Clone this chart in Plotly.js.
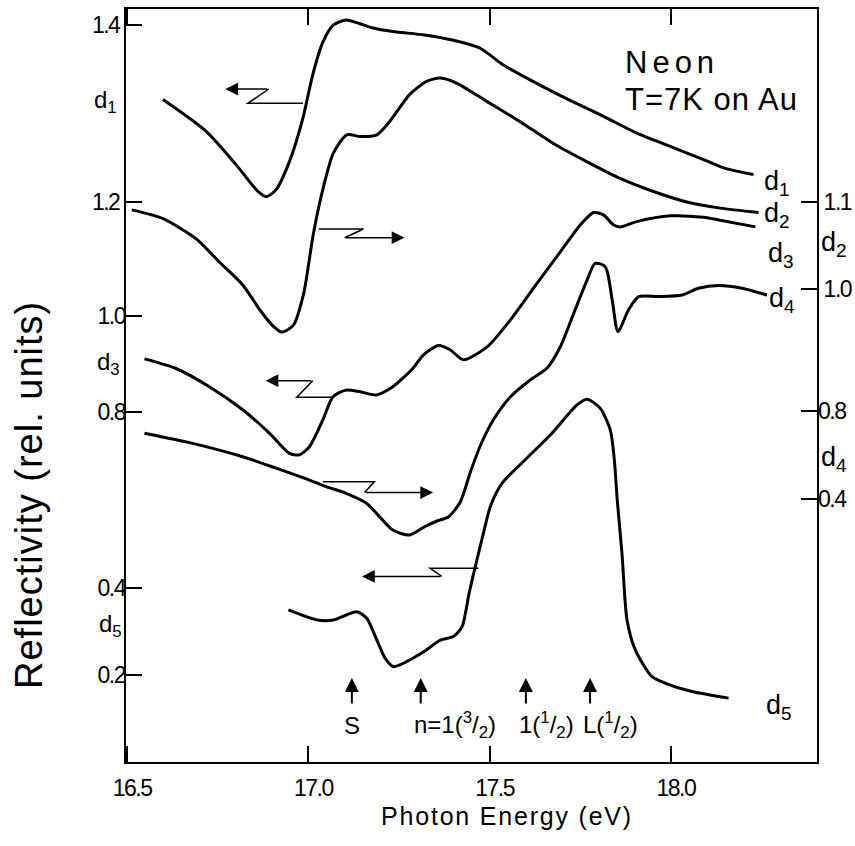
<!DOCTYPE html>
<html>
<head>
<meta charset="utf-8">
<script src="https://cdn.plot.ly/plotly-3.0.1.min.js"></script>
<style>
  html,body{margin:0;padding:0;background:#fff;}
  #chart{width:855px;height:846px;}
  text[data-unformatted="Neon"]{letter-spacing:5px;}
  text[data-unformatted="T=7K on Au"]{letter-spacing:1px;}
  text[data-unformatted="Reflectivity (rel. units)"]{letter-spacing:1px;}
  text[data-unformatted="Photon Energy (eV)"]{letter-spacing:1.8px;}
  g[class$="tick"] > text{letter-spacing:-1.5px;}
</style>
</head>
<body>
<div id="chart"></div>
<script>
// ---- Data (photon energy in eV, reflectivity in relative units, each curve on its own scale) ----
const d1E = [16.599,16.718,16.801,16.861,16.884,16.911,16.948,16.985,17.012,17.040,17.068,17.104,17.141,17.178,17.233,17.320,17.400,17.474,17.538,17.631,17.722,17.814,17.906,17.998,18.090,18.150,18.228];
const d1R = [1.316,1.280,1.242,1.212,1.206,1.214,1.246,1.295,1.344,1.381,1.400,1.406,1.402,1.397,1.393,1.389,1.383,1.374,1.355,1.334,1.315,1.297,1.278,1.263,1.248,1.238,1.231];

const d2E = [16.513,16.599,16.690,16.755,16.819,16.867,16.900,16.927,16.959,16.987,17.014,17.042,17.069,17.106,17.143,17.189,17.224,17.279,17.325,17.364,17.410,17.493,17.584,17.676,17.769,17.860,17.952,18.044,18.136,18.242];
const d2R = [1.091,1.081,1.058,1.031,1.005,0.976,0.959,0.951,0.959,0.995,1.064,1.118,1.156,1.177,1.175,1.177,1.192,1.223,1.238,1.242,1.236,1.215,1.192,1.167,1.146,1.127,1.112,1.100,1.093,1.088];

const d3E = [16.548,16.635,16.727,16.819,16.893,16.948,16.975,17.003,17.040,17.068,17.104,17.141,17.187,17.233,17.288,17.317,17.359,17.391,17.428,17.493,17.557,17.631,17.695,17.750,17.787,17.814,17.842,17.860,17.906,17.998,18.090,18.136,18.233];
const d3R = [0.910,0.890,0.852,0.804,0.755,0.713,0.710,0.727,0.783,0.831,0.845,0.842,0.835,0.852,0.890,0.918,0.938,0.929,0.908,0.935,0.991,1.068,1.133,1.189,1.215,1.210,1.189,1.185,1.196,1.208,1.205,1.199,1.185];

const d4E = [16.548,16.681,16.819,16.911,17.003,17.049,17.104,17.160,17.196,17.233,17.279,17.322,17.355,17.386,17.419,17.447,17.474,17.510,17.557,17.612,17.658,17.695,17.732,17.769,17.791,17.819,17.838,17.854,17.883,17.911,17.966,18.031,18.076,18.132,18.196,18.265];
const d4R = [0.699,0.653,0.592,0.540,0.486,0.456,0.426,0.381,0.320,0.259,0.236,0.275,0.300,0.318,0.386,0.523,0.641,0.759,0.864,0.941,0.994,1.092,1.244,1.396,1.471,1.456,1.305,1.161,1.259,1.320,1.320,1.327,1.358,1.370,1.358,1.327];

const d5E = [16.945,17.024,17.069,17.106,17.134,17.161,17.189,17.212,17.235,17.272,17.318,17.364,17.400,17.424,17.444,17.465,17.483,17.502,17.534,17.598,17.672,17.741,17.769,17.805,17.833,17.844,17.852,17.865,17.879,17.902,17.948,17.985,18.058,18.159];
const d5R = [0.349,0.326,0.326,0.338,0.345,0.330,0.280,0.238,0.219,0.231,0.253,0.280,0.288,0.311,0.390,0.464,0.525,0.586,0.639,0.693,0.754,0.819,0.832,0.811,0.761,0.693,0.601,0.479,0.326,0.257,0.196,0.181,0.162,0.147];

// tick values / labels
const xTickVals = [16.5, 17.0, 17.5, 18.0];
const xTickText = ['16.5', '17.0', '17.5', '18.0'];
const d1Ticks = [1.2, 1.4];
const d3Ticks = [0.8, 1.0];
const d5Ticks = [0.2, 0.4];
const d2Ticks = [1.0, 1.1];
const d4Ticks = [0.4, 0.8];

// marked transitions
const featureLabels = ['S', 'n=1(<sup>3</sup>/<sub>2</sub>)', '1(<sup>1</sup>/<sub>2</sub>)', 'L(<sup>1</sup>/<sub>2</sub>)'];
const featureE = [17.12, 17.31, 17.60, 17.777];

// ---- Figure ----
const tickFont = {family: 'Liberation Sans, Arial, sans-serif', size: 23, color: '#000'};
const mainFont = 'Liberation Sans, Arial, sans-serif';
const lineStyle = {color: '#000', width: 3, shape: 'spline', smoothing: 0.7};

const traces = [
  {x: d1E, y: d1R, yaxis: 'y',  name: 'd1'},
  {x: d2E, y: d2R, yaxis: 'y2', name: 'd2'},
  {x: d3E, y: d3R, yaxis: 'y3', name: 'd3'},
  {x: d4E, y: d4R, yaxis: 'y4', name: 'd4'},
  {x: d5E, y: d5R, yaxis: 'y5', name: 'd5'}
].map(t => Object.assign({type: 'scatter', mode: 'lines', line: lineStyle, hoverinfo: 'skip', showlegend: false}, t));

function yAx(range, vals, side, showline) {
  return {
    range: range, side: side, tickvals: vals, ticktext: vals.map(v => v.toFixed(1)),
    ticks: 'inside', ticklen: 16, tickwidth: 2, tickcolor: '#000',
    showline: showline, linecolor: '#000', linewidth: 2,
    showgrid: false, zeroline: false, tickfont: tickFont, ticklabelstandoff: 0,
    fixedrange: true
  };
}

const layout = {
  width: 855, height: 846,
  margin: {l: 126, r: 38, t: 9, b: 84},
  paper_bgcolor: '#fff', plot_bgcolor: '#fff',
  font: {family: mainFont, color: '#000'},
  showlegend: false,
  xaxis: {
    range: [16.497, 18.403], tickvals: xTickVals, ticktext: xTickText,
    ticks: 'inside', ticklen: 16, tickwidth: 2, tickcolor: '#000',
    showline: true, linecolor: '#000', linewidth: 2, mirror: 'ticks',
    showgrid: false, zeroline: false, tickfont: tickFont, ticklabelstandoff: 4, ticklabelshift: 5
  },
  yaxis:  yAx([0.56613, 1.41845], d1Ticks, 'left', true),
  yaxis2: Object.assign(yAx([0.45853, 1.32108], d2Ticks, 'right', true), {overlaying: 'y'}),
  yaxis3: Object.assign(yAx([0.07021, 1.63896], d3Ticks, 'left', false), {overlaying: 'y'}),
  yaxis4: Object.assign(yAx([-0.79545, 2.62727], d4Ticks, 'right', false), {overlaying: 'y'}),
  yaxis5: Object.assign(yAx([0.00068, 1.72578], d5Ticks, 'left', false), {overlaying: 'y'}),
  shapes: [],
  annotations: []
};

// Z-shaped arrows pointing to the scale that belongs to each curve
const zArrows = [
  {yref: 'y',  pts: [[16.985, 1.3117], [16.833, 1.3117], [16.891, 1.3279]], tip: [16.771, 1.3279]},
  {yref: 'y2', pts: [[17.029, 1.0691], [17.152, 1.0691], [17.100, 1.0591]], tip: [17.265, 1.0591]},
  {yref: 'y3', pts: [[17.063, 0.8300], [16.968, 0.8300], [17.012, 0.8646]], tip: [16.882, 0.8646]},
  {yref: 'y4', pts: [[17.040, 0.4786], [17.182, 0.4786], [17.155, 0.4295]], tip: [17.344, 0.4295]},
  {yref: 'y5', pts: [[17.469, 0.4444], [17.336, 0.4444], [17.368, 0.4257]], tip: [17.148, 0.4257]}
];
zArrows.forEach(z => {
  const p = z.pts;
  layout.shapes.push({
    type: 'path', xref: 'x', yref: z.yref,
    path: `M ${p[0][0]} ${p[0][1]} L ${p[1][0]} ${p[1][1]} L ${p[2][0]} ${p[2][1]}`,
    line: {color: '#000', width: 1.5}
  });
  layout.annotations.push({
    xref: 'x', yref: z.yref, axref: 'x', ayref: z.yref,
    x: z.tip[0], y: z.tip[1], ax: p[2][0], ay: p[2][1],
    text: '', showarrow: true, arrowhead: 2, arrowsize: 1.7, arrowwidth: 1.5, arrowcolor: '#000'
  });
});

// transition markers
featureE.forEach((e, i) => {
  layout.annotations.push({
    xref: 'x', yref: 'paper', x: e, y: 0.1116, ax: 0, ay: 27, text: '',
    showarrow: true, arrowhead: 2, arrowsize: 1.4, arrowwidth: 2, arrowcolor: '#000'
  });
  layout.annotations.push({
    xref: 'x', yref: 'paper', x: i === 0 ? e : e - 0.025, y: 0.049,
    xanchor: i === 0 ? 'center' : 'left', yanchor: 'middle',
    text: featureLabels[i], showarrow: false, font: {size: 24, family: mainFont}
  });
});

// curve labels
const curveLabels = [
  {t: 'd<sub>1</sub>', x: -0.029, y: 0.8765, s: 24},
  {t: 'd<sub>3</sub>', x: -0.026, y: 0.5286, s: 24},
  {t: 'd<sub>5</sub>', x: -0.023, y: 0.1819, s: 24},
  {t: 'd<sub>2</sub>', x: 1.0246, y: 0.6879, s: 27},
  {t: 'd<sub>4</sub>', x: 1.0246, y: 0.4024, s: 27},
  {t: 'd<sub>1</sub>', x: 0.9421, y: 0.7689, s: 27},
  {t: 'd<sub>2</sub>', x: 0.9421, y: 0.7264, s: 27},
  {t: 'd<sub>3</sub>', x: 0.9479, y: 0.6733, s: 27},
  {t: 'd<sub>4</sub>', x: 0.9494, y: 0.6135, s: 27},
  {t: 'd<sub>5</sub>', x: 0.9450, y: 0.0730, s: 27}
];
curveLabels.forEach(c => layout.annotations.push({
  xref: 'paper', yref: 'paper', x: c.x, y: c.y, xanchor: 'center', yanchor: 'middle',
  text: c.t, showarrow: false, font: {size: c.s, family: mainFont}
}));

// title block and axis titles
layout.annotations.push(
  {xref: 'paper', yref: 'paper', x: 0.7193, y: 0.9296, xanchor: 'left', yanchor: 'middle',
   text: 'Neon', showarrow: false, font: {size: 31, family: mainFont}},
  {xref: 'paper', yref: 'paper', x: 0.7193, y: 0.8792, xanchor: 'left', yanchor: 'middle',
   text: 'T=7K on Au', showarrow: false, font: {size: 31, family: mainFont}},
  {xref: 'paper', yref: 'paper', x: -0.1404, y: 0.3546, xanchor: 'center', yanchor: 'middle',
   textangle: -90, text: 'Reflectivity (rel. units)', showarrow: false, font: {size: 38, family: mainFont}},
  {xref: 'paper', yref: 'paper', x: 0.5507, y: -0.0717, xanchor: 'center', yanchor: 'middle',
   text: 'Photon Energy (eV)', showarrow: false, font: {size: 25, family: mainFont}}
);

Plotly.newPlot('chart', traces, layout, {staticPlot: true, displayModeBar: false});
</script>
</body>
</html>
